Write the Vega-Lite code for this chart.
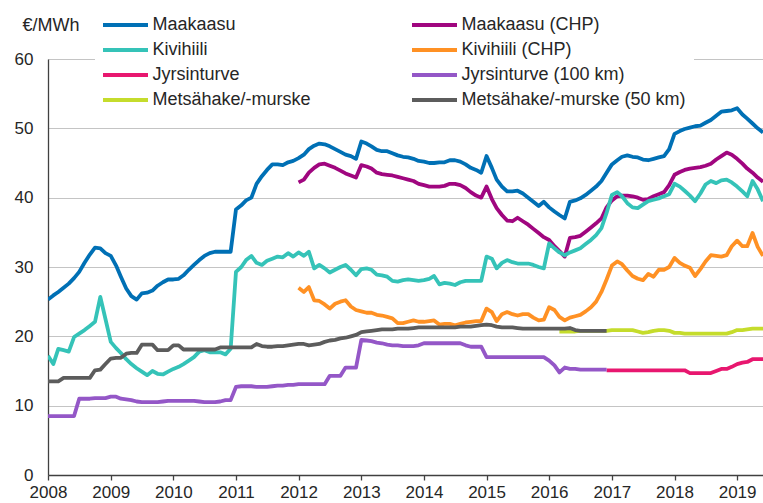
{
  "$schema": "https://vega.github.io/schema/vega-lite/v6.json",
  "width": 715,
  "height": 416,
  "autosize": {"type": "none"},
  "padding": {"left": 48, "top": 59, "right": 0, "bottom": 28},
  "background": "white",
  "config": {"view": {"stroke": null}, "font": "Liberation Sans"},
  "datasets": {
    "names": [
      {"k": "a", "s": "Maakaasu"},
      {"k": "b", "s": "Maakaasu (CHP)"},
      {"k": "c", "s": "Kivihiili"},
      {"k": "d", "s": "Kivihiili (CHP)"},
      {"k": "e", "s": "Jyrsinturve"},
      {"k": "f", "s": "Jyrsinturve (100 km)"},
      {"k": "g", "s": "Metsähake/-murske"},
      {"k": "h", "s": "Metsähake/-murske (50 km)"}
    ],
    "prices": [
      {"t":"2008-01","a":25.3,"c":17.2,"f":8.5,"h":13.5},
      {"t":"2008-02","a":25.9,"c":16.0,"f":8.5,"h":13.5},
      {"t":"2008-03","a":26.4,"c":18.2,"f":8.5,"h":13.5},
      {"t":"2008-04","a":27.0,"c":18.0,"f":8.5,"h":14.0},
      {"t":"2008-05","a":27.6,"c":17.8,"f":8.5,"h":14.0},
      {"t":"2008-06","a":28.4,"c":19.9,"f":8.5,"h":14.0},
      {"t":"2008-07","a":29.3,"c":20.4,"f":11.0,"h":14.0},
      {"t":"2008-08","a":30.6,"c":20.9,"f":11.0,"h":14.0},
      {"t":"2008-09","a":31.8,"c":21.5,"f":11.0,"h":14.0},
      {"t":"2008-10","a":32.8,"c":22.1,"f":11.1,"h":15.1},
      {"t":"2008-11","a":32.7,"c":25.7,"f":11.1,"h":15.2},
      {"t":"2008-12","a":32.0,"c":22.5,"f":11.1,"h":16.0},
      {"t":"2009-01","a":31.6,"c":19.2,"f":11.3,"h":16.8},
      {"t":"2009-02","a":30.2,"c":18.3,"f":11.3,"h":16.9},
      {"t":"2009-03","a":28.6,"c":17.6,"f":11.0,"h":16.9},
      {"t":"2009-04","a":26.9,"c":16.7,"f":10.9,"h":17.5},
      {"t":"2009-05","a":25.8,"c":16.0,"f":10.8,"h":17.6},
      {"t":"2009-06","a":25.3,"c":15.4,"f":10.6,"h":17.6},
      {"t":"2009-07","a":26.2,"c":14.9,"f":10.5,"h":18.8},
      {"t":"2009-08","a":26.3,"c":14.4,"f":10.5,"h":18.8},
      {"t":"2009-09","a":26.6,"c":15.0,"f":10.5,"h":18.8},
      {"t":"2009-10","a":27.3,"c":14.6,"f":10.5,"h":18.0},
      {"t":"2009-11","a":27.8,"c":14.5,"f":10.6,"h":18.0},
      {"t":"2009-12","a":28.2,"c":14.9,"f":10.7,"h":18.0},
      {"t":"2010-01","a":28.2,"c":15.3,"f":10.7,"h":18.7},
      {"t":"2010-02","a":28.3,"c":15.6,"f":10.7,"h":18.7},
      {"t":"2010-03","a":28.8,"c":16.0,"f":10.7,"h":18.1},
      {"t":"2010-04","a":29.6,"c":16.5,"f":10.7,"h":18.1},
      {"t":"2010-05","a":30.3,"c":17.0,"f":10.7,"h":18.1},
      {"t":"2010-06","a":31.0,"c":17.8,"f":10.6,"h":18.1},
      {"t":"2010-07","a":31.6,"c":18.0,"f":10.5,"h":18.1},
      {"t":"2010-08","a":32.0,"c":17.7,"f":10.5,"h":18.1},
      {"t":"2010-09","a":32.2,"c":17.7,"f":10.5,"h":18.1},
      {"t":"2010-10","a":32.2,"c":17.7,"f":10.6,"h":18.4},
      {"t":"2010-11","a":32.2,"c":17.4,"f":10.8,"h":18.4},
      {"t":"2010-12","a":32.2,"c":18.2,"f":10.8,"h":18.4},
      {"t":"2011-01","a":38.3,"c":29.3,"f":12.7,"h":18.4},
      {"t":"2011-02","a":38.9,"c":30.0,"f":12.8,"h":18.4},
      {"t":"2011-03","a":39.6,"c":31.0,"f":12.8,"h":18.4},
      {"t":"2011-04","a":40.0,"c":31.6,"f":12.8,"h":18.4},
      {"t":"2011-05","a":42.0,"c":30.6,"f":12.7,"h":18.9},
      {"t":"2011-06","a":43.1,"c":30.3,"f":12.7,"h":18.6},
      {"t":"2011-07","a":44.0,"c":30.9,"f":12.7,"h":18.5},
      {"t":"2011-08","a":44.8,"c":31.2,"f":12.8,"h":18.5},
      {"t":"2011-09","a":44.8,"c":31.5,"f":12.9,"h":18.6},
      {"t":"2011-10","a":44.7,"c":31.4,"f":12.9,"h":18.6},
      {"t":"2011-11","a":45.1,"c":32.0,"f":13.0,"h":18.7},
      {"t":"2011-12","a":45.3,"c":31.5,"f":13.0,"h":18.8},
      {"t":"2012-01","a":45.7,"b":42.2,"c":32.1,"d":27.0,"f":13.1,"h":18.9},
      {"t":"2012-02","a":46.2,"b":42.6,"c":31.6,"d":26.4,"f":13.1,"h":18.9},
      {"t":"2012-03","a":47.0,"b":43.6,"c":32.2,"d":27.1,"f":13.1,"h":18.7},
      {"t":"2012-04","a":47.5,"b":44.3,"c":29.8,"d":25.2,"f":13.1,"h":18.8},
      {"t":"2012-05","a":47.8,"b":44.8,"c":30.3,"d":25.1,"f":13.1,"h":18.9},
      {"t":"2012-06","a":47.7,"b":44.9,"c":29.8,"d":24.6,"f":13.1,"h":19.2},
      {"t":"2012-07","a":47.4,"b":44.6,"c":29.2,"d":24.0,"f":14.3,"h":19.4},
      {"t":"2012-08","a":47.0,"b":44.3,"c":29.6,"d":24.7,"f":14.3,"h":19.5},
      {"t":"2012-09","a":46.6,"b":43.9,"c":30.0,"d":25.0,"f":14.3,"h":19.7},
      {"t":"2012-10","a":46.2,"b":43.5,"c":30.3,"d":25.2,"f":15.5,"h":19.8},
      {"t":"2012-11","a":46.0,"b":43.2,"c":29.6,"d":24.3,"f":15.5,"h":20.0},
      {"t":"2012-12","a":45.6,"b":42.9,"c":28.8,"d":23.8,"f":15.5,"h":20.2},
      {"t":"2013-01","a":48.1,"b":44.7,"c":29.7,"d":23.6,"f":19.5,"h":20.6},
      {"t":"2013-02","a":47.8,"b":44.5,"c":29.8,"d":23.4,"f":19.4,"h":20.7},
      {"t":"2013-03","a":47.4,"b":44.2,"c":29.6,"d":23.4,"f":19.3,"h":20.8},
      {"t":"2013-04","a":46.9,"b":43.6,"c":28.9,"d":23.1,"f":19.1,"h":20.9},
      {"t":"2013-05","a":46.7,"b":43.4,"c":28.8,"d":23.0,"f":19.0,"h":21.0},
      {"t":"2013-06","a":46.7,"b":43.3,"c":28.6,"d":22.8,"f":18.8,"h":21.0},
      {"t":"2013-07","a":46.4,"b":43.2,"c":28.0,"d":22.6,"f":18.7,"h":21.0},
      {"t":"2013-08","a":46.1,"b":43.0,"c":27.9,"d":21.9,"f":18.7,"h":21.1},
      {"t":"2013-09","a":45.9,"b":42.8,"c":28.1,"d":21.9,"f":18.6,"h":21.1},
      {"t":"2013-10","a":45.8,"b":42.6,"c":28.2,"d":22.1,"f":18.6,"h":21.1},
      {"t":"2013-11","a":45.6,"b":42.4,"c":28.1,"d":22.3,"f":18.6,"h":21.2},
      {"t":"2013-12","a":45.3,"b":42.0,"c":28.0,"d":22.1,"f":18.7,"h":21.3},
      {"t":"2014-01","a":45.2,"b":41.8,"c":28.1,"d":22.1,"f":19.0,"h":21.3},
      {"t":"2014-02","a":45.0,"b":41.6,"c":28.3,"d":22.2,"f":19.0,"h":21.3},
      {"t":"2014-03","a":45.0,"b":41.6,"c":28.7,"d":22.3,"f":19.0,"h":21.3},
      {"t":"2014-04","a":45.1,"b":41.6,"c":27.5,"d":21.7,"f":19.0,"h":21.3},
      {"t":"2014-05","a":45.1,"b":41.7,"c":27.7,"d":21.8,"f":19.0,"h":21.3},
      {"t":"2014-06","a":45.4,"b":42.0,"c":27.6,"d":21.8,"f":19.0,"h":21.3},
      {"t":"2014-07","a":45.4,"b":42.0,"c":27.4,"d":21.6,"f":19.0,"h":21.3},
      {"t":"2014-08","a":45.2,"b":41.8,"c":27.8,"d":21.8,"f":19.0,"h":21.4},
      {"t":"2014-09","a":44.8,"b":41.4,"c":28.0,"d":22.0,"f":18.7,"h":21.4},
      {"t":"2014-10","a":44.3,"b":40.8,"c":28.0,"d":22.1,"f":18.5,"h":21.4},
      {"t":"2014-11","a":44.0,"b":40.3,"c":28.0,"d":22.2,"f":18.5,"h":21.5},
      {"t":"2014-12","a":43.6,"b":40.0,"c":28.0,"d":22.2,"f":18.5,"h":21.6},
      {"t":"2015-01","a":46.0,"b":41.6,"c":31.5,"d":24.0,"f":17.0,"h":21.7},
      {"t":"2015-02","a":44.3,"b":39.8,"c":31.2,"d":23.5,"f":17.0,"h":21.6},
      {"t":"2015-03","a":42.6,"b":38.5,"c":29.8,"d":22.2,"f":17.0,"h":21.4},
      {"t":"2015-04","a":41.6,"b":37.5,"c":30.6,"d":23.2,"f":17.0,"h":21.3},
      {"t":"2015-05","a":40.9,"b":36.7,"c":31.0,"d":23.5,"f":17.0,"h":21.3},
      {"t":"2015-06","a":40.9,"b":36.6,"c":30.7,"d":23.2,"f":17.0,"h":21.3},
      {"t":"2015-07","a":41.0,"b":37.1,"c":30.5,"d":23.0,"f":17.0,"h":21.2},
      {"t":"2015-08","a":40.6,"b":36.6,"c":30.5,"d":23.2,"f":17.0,"h":21.1},
      {"t":"2015-09","a":40.0,"b":36.1,"c":30.5,"d":23.2,"f":17.0,"h":21.1},
      {"t":"2015-10","a":39.4,"b":35.5,"c":30.3,"d":22.7,"f":17.0,"h":21.1},
      {"t":"2015-11","a":38.8,"b":34.9,"c":30.0,"d":22.3,"f":17.0,"h":21.1},
      {"t":"2015-12","a":39.4,"b":34.3,"c":29.8,"d":22.4,"f":17.0,"h":21.1},
      {"t":"2016-01","a":38.6,"b":33.9,"c":33.4,"d":24.2,"f":16.5,"h":21.1},
      {"t":"2016-02","a":38.0,"b":33.0,"c":32.7,"d":23.8,"f":15.8,"h":21.1},
      {"t":"2016-03","a":37.5,"b":32.3,"c":32.1,"d":22.8,"f":14.8,"g":20.7,"h":21.1},
      {"t":"2016-04","a":37.0,"b":31.5,"c":31.7,"d":22.3,"f":15.5,"g":20.7,"h":21.1},
      {"t":"2016-05","a":39.4,"b":34.2,"c":32.1,"d":22.7,"f":15.3,"g":20.7,"h":21.2},
      {"t":"2016-06","a":39.6,"b":34.3,"c":32.4,"d":22.9,"f":15.3,"g":20.7,"h":20.9},
      {"t":"2016-07","a":39.9,"b":34.5,"c":32.7,"d":23.1,"f":15.2,"g":20.8,"h":20.8},
      {"t":"2016-08","a":40.4,"b":35.1,"c":33.3,"d":23.6,"f":15.2,"g":20.8,"h":20.8},
      {"t":"2016-09","a":41.0,"b":35.7,"c":33.9,"d":24.2,"f":15.2,"g":20.8,"h":20.8},
      {"t":"2016-10","a":41.6,"b":36.3,"c":34.6,"d":25.0,"f":15.2,"g":20.8,"h":20.8},
      {"t":"2016-11","a":42.4,"b":37.0,"c":35.6,"d":26.4,"f":15.2,"g":20.8,"h":20.8},
      {"t":"2016-12","a":43.6,"b":38.6,"c":37.8,"d":28.2,"e":15.1,"f":15.2,"g":20.8,"h":20.8},
      {"t":"2017-01","a":44.8,"b":39.6,"c":40.4,"d":30.2,"e":15.1,"g":20.9},
      {"t":"2017-02","a":45.4,"b":40.2,"c":40.8,"d":30.8,"e":15.1,"g":20.9},
      {"t":"2017-03","a":45.9,"b":40.3,"c":40.2,"d":30.4,"e":15.1,"g":20.9},
      {"t":"2017-04","a":46.1,"b":40.3,"c":39.2,"d":29.5,"e":15.1,"g":20.9},
      {"t":"2017-05","a":45.9,"b":40.2,"c":38.6,"d":28.7,"e":15.1,"g":20.9},
      {"t":"2017-06","a":45.8,"b":40.0,"c":38.5,"d":28.3,"e":15.1,"g":20.7},
      {"t":"2017-07","a":45.5,"b":39.7,"c":39.0,"d":28.1,"e":15.1,"g":20.5},
      {"t":"2017-08","a":45.4,"b":39.8,"c":39.5,"d":29.0,"e":15.1,"g":20.6},
      {"t":"2017-09","a":45.6,"b":40.2,"c":39.7,"d":28.6,"e":15.1,"g":20.8},
      {"t":"2017-10","a":45.8,"b":40.5,"c":39.9,"d":29.6,"e":15.1,"g":20.9},
      {"t":"2017-11","a":46.0,"b":40.8,"c":40.2,"d":29.6,"e":15.1,"g":20.9},
      {"t":"2017-12","a":47.0,"b":41.8,"c":40.5,"d":30.0,"e":15.1,"g":20.8},
      {"t":"2018-01","a":49.2,"b":43.3,"c":42.0,"d":31.3,"e":15.1,"g":20.5},
      {"t":"2018-02","a":49.6,"b":43.7,"c":41.6,"d":30.6,"e":15.1,"g":20.5},
      {"t":"2018-03","a":49.9,"b":44.0,"c":41.0,"d":30.2,"e":15.1,"g":20.4},
      {"t":"2018-04","a":50.1,"b":44.2,"c":40.3,"d":29.9,"e":14.7,"g":20.4},
      {"t":"2018-05","a":50.3,"b":44.3,"c":39.5,"d":28.7,"e":14.7,"g":20.4},
      {"t":"2018-06","a":50.4,"b":44.4,"c":40.6,"d":29.7,"e":14.7,"g":20.4},
      {"t":"2018-07","a":50.8,"b":44.6,"c":41.9,"d":30.8,"e":14.7,"g":20.4},
      {"t":"2018-08","a":51.2,"b":44.9,"c":42.4,"d":31.7,"e":14.7,"g":20.4},
      {"t":"2018-09","a":51.8,"b":45.5,"c":42.1,"d":31.6,"e":15.0,"g":20.4},
      {"t":"2018-10","a":52.4,"b":46.0,"c":42.5,"d":31.5,"e":15.3,"g":20.4},
      {"t":"2018-11","a":52.5,"b":46.5,"c":42.6,"d":31.7,"e":15.3,"g":20.4},
      {"t":"2018-12","a":52.6,"b":46.2,"c":42.2,"d":33.0,"e":15.6,"g":20.6},
      {"t":"2019-01","a":52.9,"b":45.6,"c":41.6,"d":33.8,"e":16.0,"g":20.9},
      {"t":"2019-02","a":52.0,"b":44.9,"c":40.9,"d":33.0,"e":16.2,"g":20.9},
      {"t":"2019-03","a":51.4,"b":44.2,"c":40.2,"d":33.0,"e":16.3,"g":21.0},
      {"t":"2019-04","a":50.7,"b":43.6,"c":42.4,"d":34.9,"e":16.7,"g":21.1},
      {"t":"2019-05","a":50.0,"b":42.9,"c":41.2,"d":32.9,"e":16.7,"g":21.1},
      {"t":"2019-06","a":49.4,"b":42.3,"c":39.5,"d":31.6,"e":16.7,"g":21.1}
    ]
  },
  "data": {"name": "prices"},
  "transform": [
    {"fold": ["a", "b", "c", "d", "e", "f", "g", "h"], "as": ["k", "v"]},
    {"lookup": "k", "from": {"data": {"name": "names"}, "key": "k", "fields": ["s"]}}
  ],
  "mark": {"type": "line", "strokeWidth": 3.8, "strokeJoin": "round", "clip": true},
  "encoding": {
    "x": {
      "field": "t",
      "type": "temporal",
      "scale": {
        "type": "utc",
        "domain": [
          {"year": 2008, "month": 1, "date": 1, "utc": true},
          {"year": 2019, "month": 6, "date": 1, "utc": true}
        ]
      },
      "axis": {
        "title": null,
        "format": "%Y",
        "tickCount": {"interval": "year", "step": 1},
        "grid": false,
        "domainColor": "#404040",
        "domainWidth": 1.3,
        "ticks": true,
        "tickSize": 5,
        "tickColor": "#404040",
        "tickWidth": 1.3,
        "labelPadding": 4,
        "labelFont": "Liberation Sans",
        "labelFontSize": 17,
        "labelColor": "#262626",
        "labelFlush": false,
        "labelOverlap": false
      }
    },
    "y": {
      "field": "v",
      "type": "quantitative",
      "scale": {"domain": [0, 60], "nice": false},
      "axis": {
        "values": [0, 10, 20, 30, 40, 50, 60],
        "title": "€/MWh",
        "titleAngle": 0,
        "titleAlign": "left",
        "titleBaseline": "middle",
        "titleX": -26,
        "titleY": -34,
        "titleFont": "Liberation Sans",
        "titleFontSize": 18,
        "titleFontWeight": "normal",
        "titleColor": "#262626",
        "grid": true,
        "gridColor": "#c4c4c4",
        "gridWidth": 1.2,
        "domainColor": "#404040",
        "domainWidth": 1.3,
        "ticks": false,
        "labelPadding": 15,
        "labelFont": "Liberation Sans",
        "labelFontSize": 17,
        "labelColor": "#262626"
      }
    },
    "color": {
      "field": "s",
      "type": "nominal",
      "scale": {
        "domain": ["Maakaasu", "Maakaasu (CHP)", "Kivihiili", "Kivihiili (CHP)", "Jyrsinturve", "Jyrsinturve (100 km)", "Metsähake/-murske", "Metsähake/-murske (50 km)"],
        "range": ["#0070b5", "#a0067f", "#35c3b8", "#ff9124", "#e8176f", "#9457c7", "#c5dc2c", "#5c5c5c"]
      },
      "legend": {
        "orient": "none",
        "direction": "horizontal",
        "legendX": 47,
        "legendY": -51,
        "columns": 2,
        "title": null,
        "symbolType": "M-4.5,0H4.5",
        "symbolSize": 100,
        "symbolStrokeWidth": 4,
        "symbolOffset": 13.5,
        "labelOffset": 18,
        "labelFont": "Liberation Sans",
        "labelFontSize": 18,
        "labelColor": "#262626",
        "labelLimit": 400,
        "rowPadding": 7,
        "columnPadding": 93,
        "padding": 8,
        "fillColor": "white"
      }
    }
  }
}
